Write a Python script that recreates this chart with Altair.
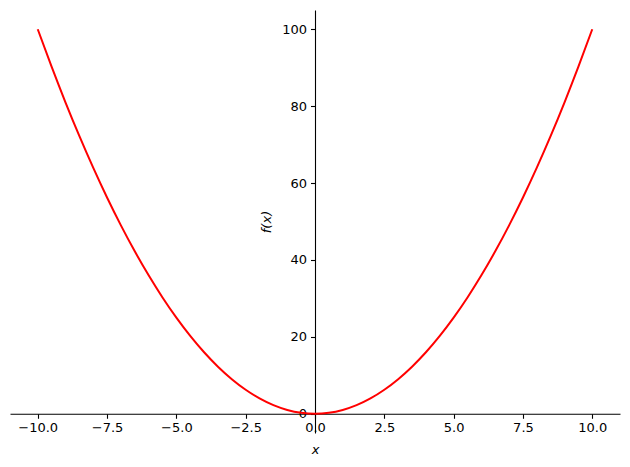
import altair as alt
import pandas as pd

x_vals = [-10.0, -9.5, -9.0, -8.5, -8.0, -7.5, -7.0, -6.5, -6.0, -5.5, -5.0,
          -4.5, -4.0, -3.5, -3.0, -2.5, -2.0, -1.5, -1.0, -0.5, 0.0,
          0.5, 1.0, 1.5, 2.0, 2.5, 3.0, 3.5, 4.0, 4.5, 5.0,
          5.5, 6.0, 6.5, 7.0, 7.5, 8.0, 8.5, 9.0, 9.5, 10.0]
y_vals = [100.0, 90.25, 81.0, 72.25, 64.0, 56.25, 49.0, 42.25, 36.0, 30.25, 25.0,
          20.25, 16.0, 12.25, 9.0, 6.25, 4.0, 2.25, 1.0, 0.25, 0.0,
          0.25, 1.0, 2.25, 4.0, 6.25, 9.0, 12.25, 16.0, 20.25, 25.0,
          30.25, 36.0, 42.25, 49.0, 56.25, 64.0, 72.25, 81.0, 90.25, 100.0]
x_ticks = [-10.0, -7.5, -5.0, -2.5, 0.0, 2.5, 5.0, 7.5, 10.0]
y_ticks = [0, 20, 40, 60, 80, 100]
x_domain = [-11, 11]
y_domain = [-5, 105]

df = pd.DataFrame({"x": x_vals, "y": y_vals})

W, H = 610, 423
x_off = -W * (0 - x_domain[0]) / (x_domain[1] - x_domain[0])
y_off = -H * (0 - y_domain[0]) / (y_domain[1] - y_domain[0])

FONT = "DejaVu Sans"
common = dict(
    grid=False, domainColor="black", domainWidth=1.1, tickColor="black",
    tickWidth=1.1, tickSize=4.5, labelColor="black", labelFont=FONT,
    labelFontSize=13, titleFont=FONT, titleFontSize=13, titleFontStyle="italic",
    titleFontWeight="normal", titleColor="black", labelOverlap=False,
    labelFlush=False,
)

chart = alt.Chart(df).mark_line(color="#ff0000", strokeWidth=2, interpolate="monotone").encode(
    x=alt.X("x:Q", scale=alt.Scale(domain=x_domain, nice=False, zero=False),
            axis=alt.Axis(title="x", values=x_ticks, format=".1f", offset=y_off,
                          labelPadding=3.5, titlePadding=9, **common)),
    y=alt.Y("y:Q", scale=alt.Scale(domain=y_domain, nice=False, zero=False),
            axis=alt.Axis(title="f(x)", values=y_ticks, format="d", offset=x_off,
                          labelPadding=4, titlePadding=8, **common)),
).properties(
    width=W, height=H,
    autosize=alt.AutoSizeParams(type="none"),
    padding={"left": 2, "top": 2, "right": 2, "bottom": 40},
).configure_view(stroke=None)

chart.save("out.html", embed_options={"renderer": "svg", "actions": False})
